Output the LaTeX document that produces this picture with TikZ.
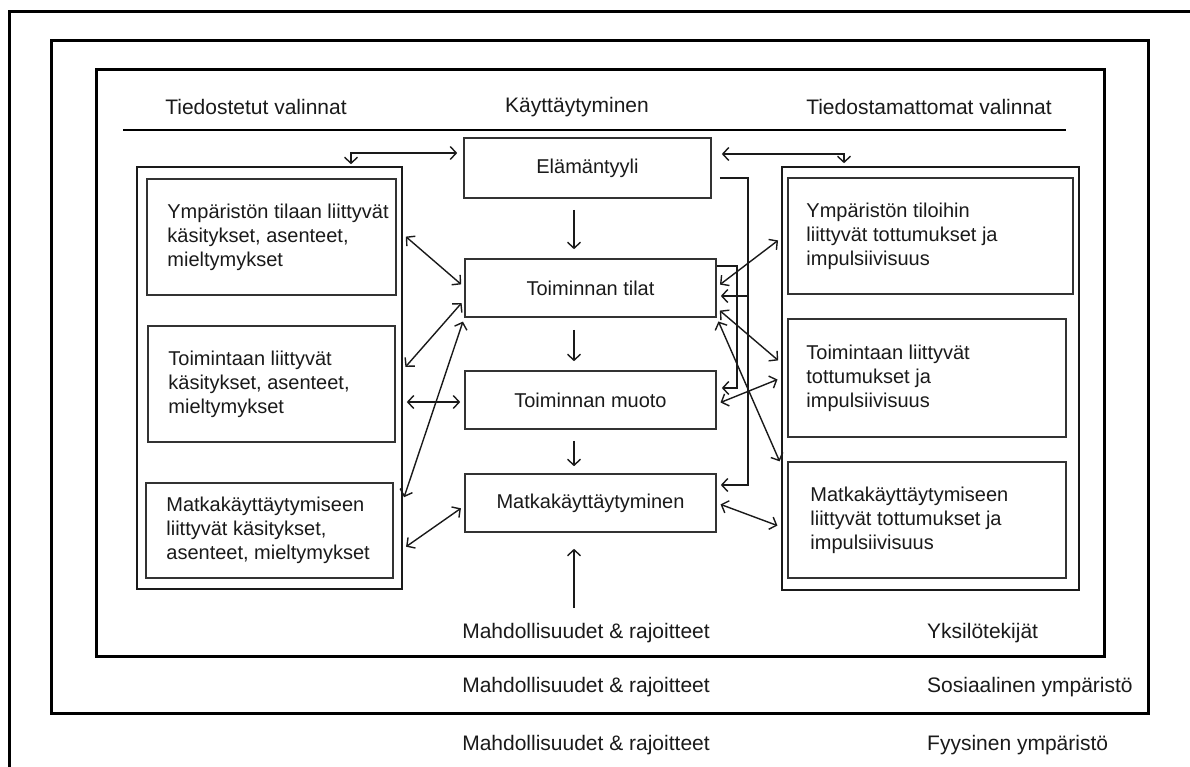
\documentclass[tikz,border=0pt]{standalone}
\usepackage{fontspec}
\setmainfont{Liberation Sans}
\usetikzlibrary{arrows.meta,positioning}

\definecolor{ink}{HTML}{1A1A1A}
\definecolor{edge}{HTML}{333333}

\tikzset{
  frame/.style={draw=black, line width=3pt},
  panel/.style={draw=ink, line width=1.6pt, inner sep=0pt},
  subbox/.style={draw=edge, line width=1.6pt, inner sep=0pt},
  stagebox/.style={draw=edge, line width=1.6pt, minimum width=251pt, minimum height=58pt,
    font=\fontsize{20}{24}\selectfont, text=ink},
  boxtext/.style={inner sep=0pt, align=left, font=\fontsize{20}{24}\selectfont, text=ink},
  heading/.style={inner sep=0pt, font=\fontsize{21}{25}\selectfont, text=ink},
  conn/.style={draw=ink, line width=1.4pt, <->, shorten <=4pt, shorten >=4pt},
  flow/.style={draw=ink, line width=1.4pt, ->},
}

\begin{document}
\begin{tikzpicture}[x=1pt, y=-1pt, >={Straight Barb[length=6pt,width=13pt]}]
\useasboundingbox (0,0) rectangle (1190,767);
\fill[white] (0,0) rectangle (1190,767);

% draw the three frames
\draw[frame] (9,12) rectangle (1220,800);
\draw[frame] (51,41) rectangle (1148,713);
\draw[frame] (96,70) rectangle (1104,656);

% headings and rule
\node[heading] (conscious) at (256,107) {Tiedostetut valinnat};
\node[heading] (behaviour) at (577,107) {Käyttäytyminen};
\node[heading] (unconscious) at (929,107) {Tiedostamattomat valinnat};
\draw[line width=2.2pt] (123,130) -- (1066,130);

% left panel
\node[panel, minimum width=265pt, minimum height=422pt] (lpanel) at (269.5,378) {};
\node[subbox, minimum width=249pt, minimum height=116pt] (lenv) at (271.5,237) {};
\node[subbox, minimum width=247pt, minimum height=116pt] (lact) at (271.5,384) {};
\node[subbox, minimum width=247pt, minimum height=95pt] (ltrav) at (269.5,530.5) {};
\node[boxtext, right=21pt of lenv.west] (lenvtxt) {Ympäristön tilaan liittyvät\\käsitykset, asenteet,\\mieltymykset};
\node[boxtext, right=21pt of lact.west] (lacttxt) {Toimintaan liittyvät\\käsitykset, asenteet,\\mieltymykset};
\node[boxtext, right=21pt of ltrav.west] (ltravtxt) {Matkakäyttäytymiseen\\liittyvät käsitykset,\\asenteet, mieltymykset};

% right panel
\node[panel, minimum width=297pt, minimum height=423pt] (rpanel) at (930.5,378.5) {};
\node[subbox, minimum width=285pt, minimum height=116pt] (renv) at (930.5,236) {};
\node[subbox, minimum width=278pt, minimum height=118pt] (ract) at (927,378) {};
\node[subbox, minimum width=278pt, minimum height=116pt] (rtrav) at (927,520) {};
\node[boxtext, right=19pt of renv.west] (renvtxt) {Ympäristön tiloihin\\liittyvät tottumukset ja\\impulsiivisuus};
\node[boxtext, right=19pt of ract.west] (racttxt) {Toimintaan liittyvät\\tottumukset ja\\impulsiivisuus};
\node[boxtext, right=23pt of rtrav.west] (rtravtxt) {Matkakäyttäytymiseen\\liittyvät tottumukset ja\\impulsiivisuus};

% centre stages
\node[stagebox, minimum width=247pt, minimum height=60pt] (eli) at (587.5,168) {Elämäntyyli};
\node[stagebox] (tilat) at (590.5,288) {Toiminnan tilat};
\node[stagebox] (muoto) at (590.5,400) {Toiminnan muoto};
\node[stagebox] (matka) at (590.5,503) {Matkakäyttäytyminen};

% bottom labels
\node[heading] (chance1) at (586,633) {Mahdollisuudet \& rajoitteet};
\node[heading] (chance2) at (586,687) {Mahdollisuudet \& rajoitteet};
\node[heading] (chance3) at (586,745) {Mahdollisuudet \& rajoitteet};
\node[heading, anchor=west] (indiv) at (927,633) {Yksilötekijät};
\node[heading, anchor=west] (social) at (927,687) {Sosiaalinen ympäristö};
\node[heading, anchor=west] (physic) at (927,745) {Fyysinen ympäristö};

% vertical flow
\coordinate (spine) at (574,0);
\draw[flow, shorten <=11pt, shorten >=9pt] (eli.south -| spine) -- (tilat.north -| spine);
\draw[flow, shorten <=12pt, shorten >=9pt] (tilat.south -| spine) -- (muoto.north -| spine);
\draw[flow, shorten <=11pt, shorten >=7pt] (muoto.south -| spine) -- (matka.north -| spine);
\draw[flow, shorten <=15pt, shorten >=16pt] (chance1.north -| spine) -- (matka.south -| spine);

% top elbows
\coordinate (lcorner) at (351,153);
\coordinate (rcorner) at (844,154);
\draw[conn, shorten <=2pt, shorten >=6pt] (lpanel.north -| lcorner) -- (lcorner) -- (eli.west |- lcorner);
\draw[conn, shorten <=10pt, shorten >=3pt] (eli.east |- rcorner) -- (rcorner) -- (rpanel.north -| rcorner);

% right rails
\coordinate (railA) at (748,178);
\coordinate (railB) at (737,266);
\draw[flow, shorten <=8pt, shorten >=4pt] (eli.east |- railA) -- (railA) |- (matka.east |- 0,485);
\draw[flow, shorten >=4pt] (railA |- 0,296) -- (tilat.east |- 0,296);
\draw[flow, shorten >=5pt] (tilat.east |- railB) -- (railB) |- (muoto.east |- 0,388);

% left links
\draw[conn] (lpanel.east |- 0,234) -- (tilat.west |- 0,287);
\draw[conn] (lpanel.east |- 0,370) -- (tilat.west |- 0,300);
\draw[conn] (lpanel.east |- 0,501) -- (tilat.south west);
\draw[conn] (lpanel.east |- 0,402) -- (muoto.west |- 0,402);
\draw[conn] (lpanel.east |- 0,549) -- (matka.west |- 0,506);

% right links
\draw[conn] (tilat.east |- 0,287) -- (rpanel.west |- 0,238);
\draw[conn] (tilat.east |- 0,308) -- (rpanel.west |- 0,363);
\draw[conn] (muoto.east |- 0,404) -- (rpanel.west |- 0,378);
\draw[conn] (tilat.south east) -- (rpanel.west |- 0,465);
\draw[conn] (matka.east |- 0,503) -- (rpanel.west |- 0,527);

\end{tikzpicture}
\end{document}
